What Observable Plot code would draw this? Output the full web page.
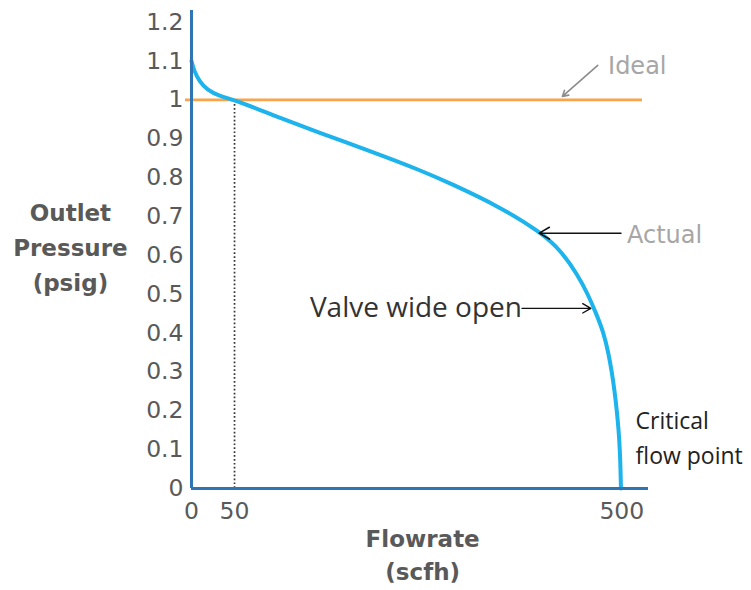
<!DOCTYPE html>
<html>
<head>
<meta charset="utf-8">
<script src="https://cdn.jsdelivr.net/npm/d3@7"></script>
<script src="https://cdn.jsdelivr.net/npm/@observablehq/plot@0.6"></script>
<style>
  html, body { margin: 0; padding: 0; background: #fff; }
</style>
</head>
<body>
<div id="chart"></div>
<script>
// Actual regulator curve: flowrate (scfh) vs outlet pressure (psig)
const flow     = [0, 3, 9, 18, 32, 50, 92, 150, 208, 266, 301, 359, 406, 429, 449, 460.5, 470.3, 479, 484.3, 488.4, 491.6, 494.2, 496.3, 497.7, 498.5, 499];
const pressure = [1.1, 1.075, 1.048, 1.026, 1.01, 1.0, 0.963, 0.914, 0.868, 0.819, 0.785, 0.724, 0.659, 0.613, 0.549, 0.5, 0.45, 0.4, 0.35, 0.3, 0.25, 0.2, 0.15, 0.1, 0.05, 0];

// Ideal set pressure
const idealPressure = 1.0;
const idealFrom = -7;
const idealTo = 524;

// Ticks
const yTicks = [0, 0.1, 0.2, 0.3, 0.4, 0.5, 0.6, 0.7, 0.8, 0.9, 1, 1.1, 1.2];
const yTickLabels = ["0", "0.1", "0.2", "0.3", "0.4", "0.5", "0.6", "0.7", "0.8", "0.9", "1", "1.1", "1.2"];
const xTicks = [0, 50, 500];
const xTickLabels = ["0", "50", "500"];

// Reference flow (dotted)
const refFlow = 50;

// Labels
const yLabel = "Outlet\nPressure\n(psig)";
const xLabel = "Flowrate\n(scfh)";
const idealLabel = "Ideal";
const actualLabel = "Actual";
const valveLabel = "Valve wide open";
const criticalLabel = "Critical\nflow point";

// Annotation anchors (data units)
const idealArrow  = [{x1: 472, y1: 1.089, x2: 431, y2: 1.009}];
const actualArrow = [{x1: 499, y1: 0.657, x2: 404, y2: 0.657}];
const valveArrow  = [{x1: 384, y1: 0.4636, x2: 464, y2: 0.4636}];

const curve = flow.map((f, i) => ({flow: f, pressure: pressure[i]}));
const xMax = 531, yMax = 1.23;
const sans = "'DejaVu Sans', sans-serif";
const segoe = "'Open Sans', sans-serif";

const chart = Plot.plot({
  width: 751,
  height: 590,
  marginLeft: 191,
  marginRight: 103,
  marginTop: 10,
  marginBottom: 102,
  style: {fontFamily: sans, background: "#fff"},
  x: {domain: [0, xMax]},
  y: {domain: [0, yMax]},
  marks: [
    Plot.axisY(yTicks, {
      tickSize: 0, tickPadding: 8, fontSize: 23.5, fill: "#595959",
      tickFormat: (d) => yTickLabels[yTicks.indexOf(d)], label: null
    }),
    Plot.axisX(xTicks, {
      tickSize: 0, tickPadding: 14, fontSize: 23.5, fill: "#595959",
      tickFormat: (d) => xTickLabels[xTicks.indexOf(d)], label: null
    }),
    // dotted reference line at 50
    Plot.ruleX([refFlow], {y1: 0, y2: idealPressure, stroke: "#333", strokeWidth: 1.7, strokeDasharray: "1.7,2.2"}),
    // Ideal line
    Plot.ruleY([idealPressure], {x1: idealFrom, x2: idealTo, stroke: "#F7A44A", strokeWidth: 2.6, clip: false}),
    // Actual curve
    Plot.line(curve, {x: "flow", y: "pressure", stroke: "#1DB3EC", strokeWidth: 4, curve: "basis"}),
    // Axes lines
    Plot.ruleX([0], {y1: 0, y2: yMax, stroke: "#2F74B5", strokeWidth: 3}),
    Plot.ruleY([0], {x1: 0, x2: xMax, stroke: "#2F74B5", strokeWidth: 3}),
    // Annotations
    Plot.arrow(idealArrow, {x1: "x1", y1: "y1", x2: "x2", y2: "y2", stroke: "#8c8c8c", strokeWidth: 1.6, headLength: 6}),
    Plot.text([idealLabel], {x: 484, y: 1.086, text: d => d, textAnchor: "start", fontSize: 24, fill: "#a6a6a6"}),
    Plot.arrow(actualArrow, {x1: "x1", y1: "y1", x2: "x2", y2: "y2", stroke: "#111", strokeWidth: 1.6, headLength: 11}),
    Plot.text([actualLabel], {x: 506, y: 0.652, text: d => d, textAnchor: "start", fontSize: 24, fill: "#a6a6a6"}),
    Plot.arrow(valveArrow, {x1: "x1", y1: "y1", x2: "x2", y2: "y2", stroke: "#111", strokeWidth: 1.4, headLength: 10}),
    Plot.text([valveLabel], {x: 384, y: 0.4636, text: d => d, textAnchor: "end", fontSize: 28, fill: "#333", fontFamily: segoe}),
    Plot.text([criticalLabel], {x: 516, y: 0.138, text: d => d, textAnchor: "start", fontSize: 23, lineHeight: 1.52, fill: "#222", fontFamily: segoe}),
    // Axis titles
    Plot.text([yLabel], {x: -140.7, y: 0.626, text: d => d, textAnchor: "middle", fontSize: 23, fontWeight: "bold", lineHeight: 1.52, fill: "#595959", clip: false}),
    Plot.text([xLabel], {x: 268.6, y: -0.167, text: d => d, textAnchor: "middle", fontSize: 23, fontWeight: "bold", lineHeight: 1.43, fill: "#595959", clip: false})
  ]
});
document.getElementById("chart").appendChild(chart);
</script>
</body>
</html>
